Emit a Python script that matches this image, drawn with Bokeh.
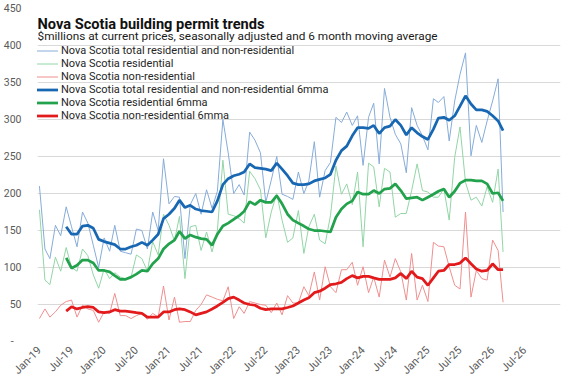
import math
import pandas as pd
from bokeh.plotting import figure
from bokeh.models import Range1d, FixedTicker, Legend, LegendItem, Label
from bokeh.embed import file_html
from bokeh.resources import INLINE

# ---------------- data ----------------
months = pd.date_range("2019-01-01", periods=87, freq="MS")   # Jan-19 .. Mar-26
months_mma = months[5:]                                         # Jun-19 .. Mar-26

total = [210, 125, 112, 157, 143, 182, 155, 128, 175, 160,
         130, 100, 140, 122, 157, 122, 120, 118, 152, 150,
         125, 175, 150, 247, 186, 196, 195, 112, 185, 200,
         172, 205, 180, 203, 300, 255, 200, 212, 198, 283,
         272, 255, 188, 218, 250, 199, 196, 192, 229, 200,
         217, 270, 195, 231, 242, 303, 296, 310, 292, 305,
         238, 303, 322, 240, 342, 303, 280, 267, 228, 316,
         292, 278, 259, 328, 323, 331, 271, 325, 361, 390,
         251, 292, 269, 298, 325, 355, 175]

residential = [178, 83, 77, 114, 95, 127, 100, 95, 125, 116,
               90, 72, 98, 85, 93, 87, 85, 87, 117, 112,
               95, 135, 117, 172, 157, 136, 169, 85, 155, 157,
               123, 148, 121, 150, 245, 172, 170, 166, 160, 230,
               220, 205, 140, 175, 200, 164, 134, 140, 177, 119,
               155, 172, 137, 132, 170, 237, 199, 213, 185, 229,
               128, 241, 236, 182, 234, 229, 168, 173, 173, 204,
               240, 204, 202, 195, 195, 206, 164, 249, 290, 215,
               191, 195, 183, 209, 188, 233, 121]

non_residential = [31, 44, 33, 40, 49, 54, 56, 33, 49, 44,
                   42, 26, 40, 38, 65, 35, 35, 31, 35, 38,
                   30, 38, 33, 75, 29, 60, 26, 27, 27, 42,
                   50, 63, 60, 57, 55, 74, 31, 47, 38, 54,
                   52, 50, 49, 39, 52, 36, 62, 52, 52, 74,
                   62, 94, 56, 101, 74, 66, 97, 97, 107, 76,
                   101, 66, 87, 60, 110, 87, 112, 94, 56, 119,
                   56, 76, 54, 134, 129, 128, 101, 76, 71, 175,
                   60, 96, 85, 83, 137, 123, 53]

total_6mma = [155, 145, 145, 156, 157,
              153, 138, 135, 133, 131, 125, 125, 128, 130, 134,
              130, 137, 145, 166, 172, 180, 191, 181, 184, 179,
              177, 176, 175, 190, 212, 220, 224, 226, 229, 240,
              235, 234, 233, 231, 241, 233, 224, 214, 212, 212,
              213, 217, 219, 221, 226, 245, 258, 264, 278, 289,
              289, 288, 292, 281, 289, 291, 300, 292, 279, 289,
              282, 277, 273, 287, 302, 303, 299, 305, 318, 332,
              321, 313, 313, 311, 305, 298, 285]

residential_6mma = [113, 99, 103, 110, 110,
                    106, 96, 96, 94, 89, 84, 84, 87, 91, 96,
                    95, 105, 112, 125, 132, 137, 149, 139, 144, 141,
                    139, 138, 130, 145, 156, 160, 165, 170, 176, 189,
                    185, 191, 188, 188, 197, 186, 172, 164, 160, 156,
                    152, 150, 150, 149, 148, 168, 179, 186, 190, 202,
                    199, 199, 204, 200, 206, 207, 213, 204, 193, 194,
                    195, 191, 195, 199, 203, 206, 195, 203, 214, 218,
                    218, 217, 217, 213, 200, 201, 190]

non_residential_6mma = [41, 47, 44, 46, 47,
                        46, 40, 39, 40, 43, 41, 41, 40, 39, 38,
                        33, 33, 33, 40, 40, 43, 44, 43, 40, 36,
                        38, 40, 44, 48, 53, 58, 60, 56, 52, 50,
                        49, 45, 43, 44, 44, 44, 46, 48, 52, 56,
                        59, 66, 68, 72, 77, 78, 80, 85, 89, 86,
                        88, 88, 86, 84, 84, 84, 86, 92, 85, 95,
                        87, 85, 76, 86, 95, 96, 104, 104, 106, 113,
                        105, 98, 95, 96, 105, 97, 97]

tick_dates = pd.date_range("2019-01-01", periods=16, freq="6MS")
tick_labels = ["Jan-19", "Jul-19", "Jan-20", "Jul-20", "Jan-21", "Jul-21",
               "Jan-22", "Jul-22", "Jan-23", "Jul-23", "Jan-24", "Jul-24",
               "Jan-25", "Jul-25", "Jan-26", "Jul-26"]
y_ticks = [0, 50, 100, 150, 200, 250, 300, 350, 400, 450]
y_tick_labels = ["-\u00a0\u00a0\u00a0", "50", "100", "150", "200", "250", "300", "350", "400", "450"]

series_names = ["Nova Scotia total residential and non-residential",
                "Nova Scotia residential",
                "Nova Scotia non-residential",
                "Nova Scotia total residential and non-residential 6mma",
                "Nova Scotia residential 6mma",
                "Nova Scotia non-residential 6mma"]

# ---------------- styling ----------------
FONT = "Roboto"
THIN_BLUE, THICK_BLUE = "#86acd9", "#1767b2"
THIN_GREEN, THICK_GREEN = "#92d5a6", "#22a24c"
THIN_RED, THICK_RED = "#ef8f8f", "#e21a1c"
GRID = "#d9d9d9"
TEXT = "#595959"

FRAME_H = 333   # 385 - top 8 - bottom 44

x_start = pd.Timestamp("2018-12-21")
x_end = pd.Timestamp("2027-01-19")

p = figure(width=577, height=385, x_axis_type="datetime",
           x_range=Range1d(x_start, x_end), y_range=Range1d(0, 450),
           output_backend="svg", toolbar_location=None,
           min_border_left=37, min_border_right=17, min_border_top=8, min_border_bottom=44)
p.outline_line_color = None
p.background_fill_color = "white"
p.border_fill_color = "white"

def ms(t):
    return int(pd.Timestamp(t).timestamp() * 1000)

# axes
p.yaxis.ticker = FixedTicker(ticks=y_ticks)
p.yaxis.major_label_overrides = {t: lab for t, lab in zip(y_ticks, y_tick_labels)}
p.xaxis.ticker = FixedTicker(ticks=[ms(t) for t in tick_dates])
p.xaxis.major_label_overrides = {ms(t): lab for t, lab in zip(tick_dates, tick_labels)}
p.xaxis.major_label_orientation = math.pi / 4
for ax in (p.xaxis, p.yaxis):
    ax.axis_line_color = None
    ax.major_tick_line_color = None
    ax.minor_tick_line_color = None
    ax.major_tick_out = 0
    ax.minor_tick_out = 0
    ax.major_label_text_font = FONT
    ax.major_label_text_color = TEXT
p.yaxis.major_label_text_font_size = "10.5px"
p.xaxis.major_label_text_font_size = "11px"
p.yaxis.major_label_standoff = 16
p.xaxis.major_label_standoff = 7
p.xgrid.grid_line_color = None
p.ygrid.grid_line_color = GRID
p.ygrid.grid_line_width = 1

# lines
r_tot = p.line(months, total, line_color=THIN_BLUE, line_width=1)
r_res = p.line(months, residential, line_color=THIN_GREEN, line_width=1)
r_non = p.line(months, non_residential, line_color=THIN_RED, line_width=1)
r_tot6 = p.line(months_mma, total_6mma, line_color=THICK_BLUE, line_width=2.75)
r_res6 = p.line(months_mma, residential_6mma, line_color=THICK_GREEN, line_width=2.75)
r_non6 = p.line(months_mma, non_residential_6mma, line_color=THICK_RED, line_width=2.75)

renderers = [r_tot, r_res, r_non, r_tot6, r_res6, r_non6]
ROW = 13
legend = Legend(items=[LegendItem(label=n, renderers=[r]) for n, r in zip(series_names, renderers)],
                location=(-6, FRAME_H - 36 - 6 * ROW), orientation="vertical",
                background_fill_alpha=0, border_line_color=None,
                padding=0, spacing=0, margin=0,
                glyph_width=27, glyph_height=ROW, label_height=ROW, label_standoff=3,
                label_text_font=FONT, label_text_font_size="11px", label_text_color="#262626")
p.add_layout(legend, "center")

title = Label(x=0, y=FRAME_H - 15, x_units="screen", y_units="screen",
              text="Nova Scotia building permit trends",
              text_font=FONT, text_font_size="14.6px", text_font_style="bold",
              text_color="#111111", text_baseline="alphabetic")
subtitle = Label(x=0, y=FRAME_H - 27, x_units="screen", y_units="screen",
                 text="$millions at current prices, seasonally  adjusted and 6 month moving average",
                 text_font=FONT, text_font_size="11.8px",
                 text_color="#1a1a1a", text_baseline="alphabetic")
p.add_layout(title)
p.add_layout(subtitle)

open("out.html", "w").write(file_html(p, INLINE))
